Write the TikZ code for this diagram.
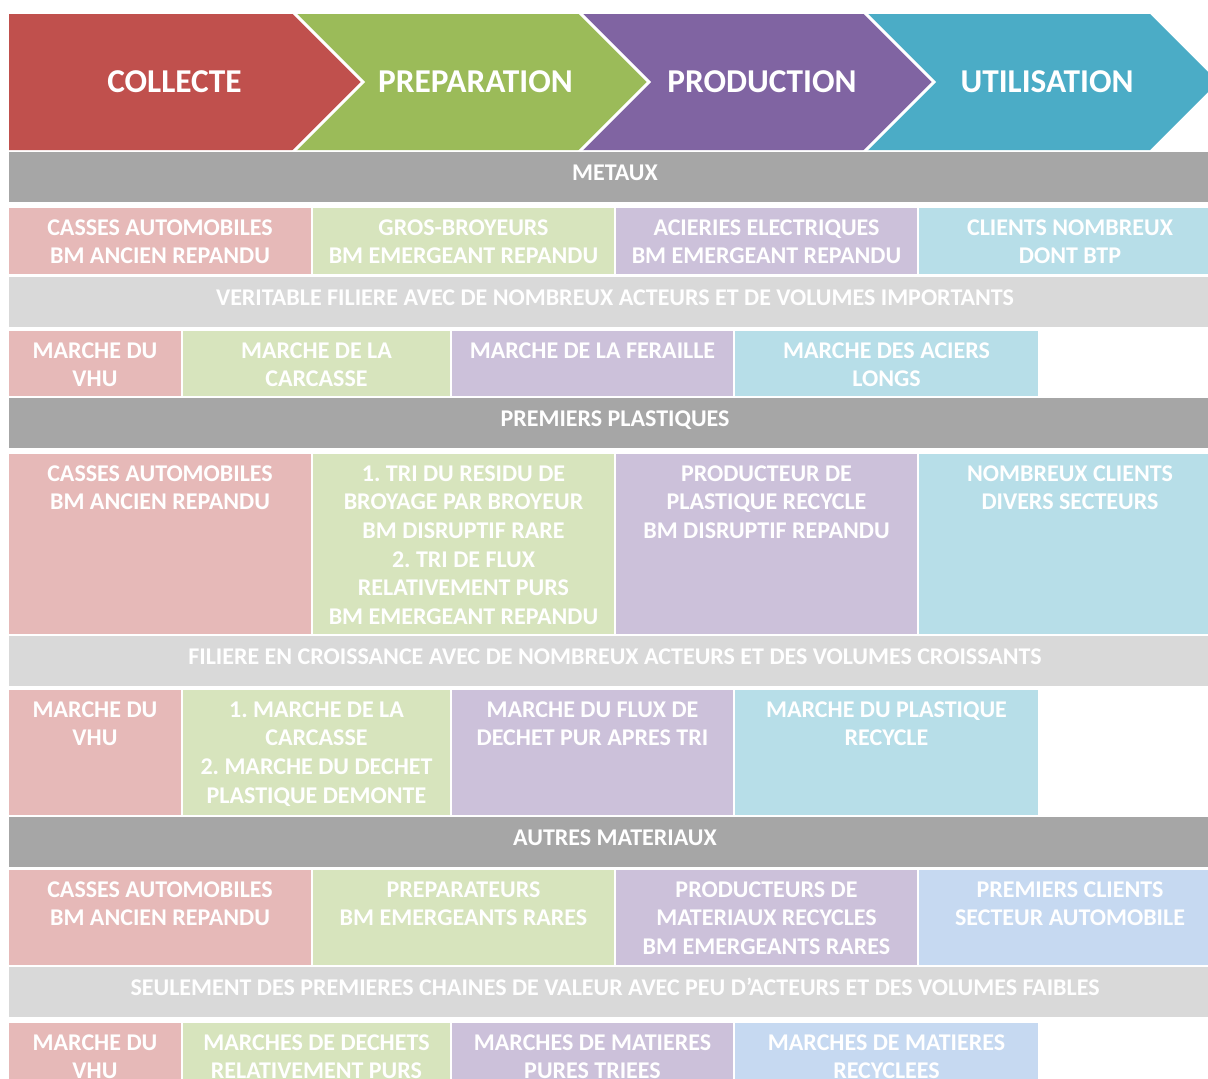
\documentclass[tikz,border=0pt]{standalone}
\usepackage{fontspec}
\setmainfont{Carlito}
\frenchspacing

\definecolor{redarrow}{HTML}{C0504D}
\definecolor{greenarrow}{HTML}{9BBB59}
\definecolor{purplearrow}{HTML}{8064A2}
\definecolor{cyanarrow}{HTML}{4BACC6}
\definecolor{darkbar}{HTML}{A6A6A6}
\definecolor{lightbar}{HTML}{D9D9D9}
\definecolor{redcell}{HTML}{E6B9B8}
\definecolor{greencell}{HTML}{D7E4BD}
\definecolor{purplecell}{HTML}{CCC1DA}
\definecolor{cyancell}{HTML}{B7DEE8}
\definecolor{bluecell}{HTML}{C6D9F1}

\begin{document}
\begin{tikzpicture}[x=0.75pt, y=-0.75pt,
  txt/.style={text=white, font=\bfseries\fontsize{18}{21.5}\selectfont, align=center, anchor=north, inner sep=0pt},
  bar/.style={text=white, font=\bfseries\fontsize{18}{21.5}\selectfont, anchor=base, inner sep=0pt},
  head/.style={text=white, font=\bfseries\fontsize{25}{30}\selectfont, anchor=base, inner sep=0pt}]
  \useasboundingbox (0,0) rectangle (1208,1079);
  \clip (0,0) rectangle (1208,1079);

  %------ chaine de valeur
  \fill[redarrow] (9,14) -- (295,14) -- (363,82) -- (295,150) -- (9,150) -- cycle;
  \fill[greenarrow] (295,14) -- (581,14) -- (649,82) -- (581,150) -- (295,150) -- (363,82) -- cycle;
  \fill[purplearrow] (581,14) -- (866,14) -- (934,82) -- (866,150) -- (581,150) -- (649,82) -- cycle;
  \fill[cyanarrow] (866,14) -- (1150,14) -- (1218,82) -- (1150,150) -- (866,150) -- (934,82) -- cycle;
  \draw[white, line width=2.2pt] (293,12) -- (363,82) -- (293,152);
  \draw[white, line width=2.2pt] (579,12) -- (649,82) -- (579,152);
  \draw[white, line width=2.2pt] (864,12) -- (934,82) -- (864,152);

  \node[head] (collecte) at (174.5,92) {COLLECTE};
  \node[head] (preparation) at (475.5,92) {PREPARATION};
  \node[head] (production) at (762,92) {PRODUCTION};
  \node[head] (utilisation) at (1047,92) {UTILISATION};

  %------ metaux
  \fill[darkbar] (9,152) rectangle (1221,202);
  \node[bar] (metaux) at (615,180.7) {METAUX};

  \fill[redcell] (9,208) rectangle (311,274);
  \fill[greencell] (313,208) rectangle (614,274);
  \fill[purplecell] (616,208) rectangle (917,274);
  \fill[cyancell] (919,208) rectangle (1221,274);
  \node[txt] (met1) at (160,219.3) {CASSES AUTOMOBILES\\BM ANCIEN REPANDU};
  \node[txt] (met2) at (463.5,219.3) {GROS-BROYEURS\\BM EMERGEANT REPANDU};
  \node[txt] (met3) at (766.5,219.3) {ACIERIES ELECTRIQUES\\BM EMERGEANT REPANDU};
  \node[txt] (met4) at (1070,219.3) {CLIENTS NOMBREUX\\DONT BTP};

  \fill[lightbar] (9,277) rectangle (1221,327);
  \node[bar] (metfil) at (615,305.7) {VERITABLE FILIERE AVEC DE NOMBREUX ACTEURS ET DE VOLUMES IMPORTANTS};

  \fill[redcell] (9,331) rectangle (181,396);
  \fill[greencell] (183,331) rectangle (450,396);
  \fill[purplecell] (452,331) rectangle (733,396);
  \fill[cyancell] (735,331) rectangle (1038,396);
  \node[txt] (metm1) at (95,342.3) {MARCHE DU\\VHU};
  \node[txt] (metm2) at (316.5,342.3) {MARCHE DE LA\\CARCASSE};
  \node[txt] (metm3) at (592.5,342.3) {MARCHE DE LA FERAILLE};
  \node[txt] (metm4) at (886.5,342.3) {MARCHE DES ACIERS\\LONGS};

  %------ premiers plastiques
  \fill[darkbar] (9,398) rectangle (1221,448);
  \node[bar] (plastiques) at (615,426.7) {PREMIERS PLASTIQUES};

  \fill[redcell] (9,454) rectangle (311,634);
  \fill[greencell] (313,454) rectangle (614,634);
  \fill[purplecell] (616,454) rectangle (917,634);
  \fill[cyancell] (919,454) rectangle (1221,634);
  \node[txt] (pla1) at (160,465.3) {CASSES AUTOMOBILES\\BM ANCIEN REPANDU};
  \node[txt] (pla2) at (463.5,465.3) {1. TRI DU RESIDU DE\\BROYAGE PAR BROYEUR\\BM DISRUPTIF RARE\\2. TRI DE FLUX\\RELATIVEMENT PURS\\BM EMERGEANT REPANDU};
  \node[txt] (pla3) at (766.5,465.3) {PRODUCTEUR DE\\PLASTIQUE RECYCLE\\BM DISRUPTIF REPANDU};
  \node[txt] (pla4) at (1070,465.3) {NOMBREUX CLIENTS\\DIVERS SECTEURS};

  \fill[lightbar] (9,636) rectangle (1221,686);
  \node[bar] (plafil) at (615,664.7) {FILIERE EN CROISSANCE AVEC DE NOMBREUX ACTEURS ET DES VOLUMES CROISSANTS};

  \fill[redcell] (9,690) rectangle (181,815);
  \fill[greencell] (183,690) rectangle (450,815);
  \fill[purplecell] (452,690) rectangle (733,815);
  \fill[cyancell] (735,690) rectangle (1038,815);
  \node[txt] (plam1) at (95,701.3) {MARCHE DU\\VHU};
  \node[txt] (plam2) at (316.5,701.3) {1. MARCHE DE LA\\CARCASSE\\2. MARCHE DU DECHET\\PLASTIQUE DEMONTE};
  \node[txt] (plam3) at (592.5,701.3) {MARCHE DU FLUX DE\\DECHET PUR APRES TRI};
  \node[txt] (plam4) at (886.5,701.3) {MARCHE DU PLASTIQUE\\RECYCLE};

  %------ autres materiaux
  \fill[darkbar] (9,817) rectangle (1221,867);
  \node[bar] (autres) at (615,845.7) {AUTRES MATERIAUX};

  \fill[redcell] (9,870) rectangle (311,965);
  \fill[greencell] (313,870) rectangle (614,965);
  \fill[purplecell] (616,870) rectangle (917,965);
  \fill[bluecell] (919,870) rectangle (1221,965);
  \node[txt] (aut1) at (160,881.3) {CASSES AUTOMOBILES\\BM ANCIEN REPANDU};
  \node[txt] (aut2) at (463.5,881.3) {PREPARATEURS\\BM EMERGEANTS RARES};
  \node[txt] (aut3) at (766.5,881.3) {PRODUCTEURS DE\\MATERIAUX RECYCLES\\BM EMERGEANTS RARES};
  \node[txt] (aut4) at (1070,881.3) {PREMIERS CLIENTS\\SECTEUR AUTOMOBILE};

  \fill[lightbar] (9,967) rectangle (1221,1017);
  \node[bar] (autfil) at (615,995.7) {SEULEMENT DES PREMIERES CHAINES DE VALEUR AVEC PEU D’ACTEURS ET DES VOLUMES FAIBLES};

  \fill[redcell] (9,1023) rectangle (181,1090);
  \fill[greencell] (183,1023) rectangle (450,1090);
  \fill[purplecell] (452,1023) rectangle (733,1090);
  \fill[bluecell] (735,1023) rectangle (1038,1090);
  \node[txt] (autm1) at (95,1034.3) {MARCHE DU\\VHU};
  \node[txt] (autm2) at (316.5,1034.3) {MARCHES DE DECHETS\\RELATIVEMENT PURS};
  \node[txt] (autm3) at (592.5,1034.3) {MARCHES DE MATIERES\\PURES TRIEES};
  \node[txt] (autm4) at (886.5,1034.3) {MARCHES DE MATIERES\\RECYCLEES};

\end{tikzpicture}
\end{document}
